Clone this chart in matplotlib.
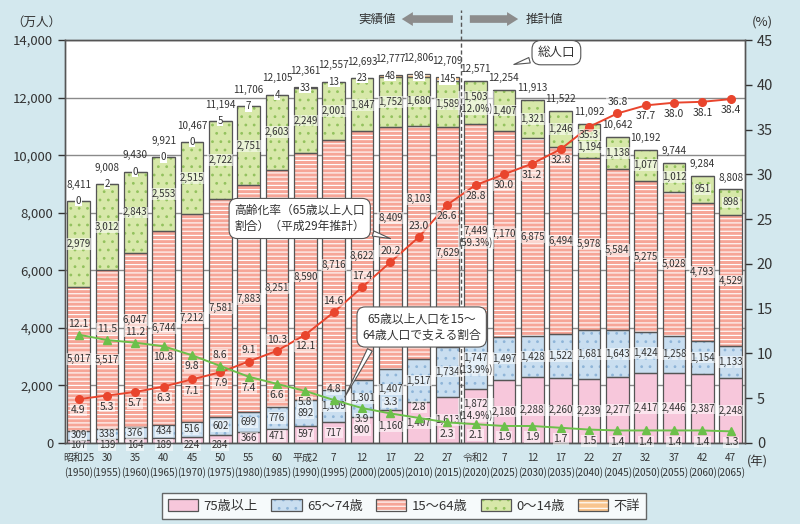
import matplotlib
matplotlib.use('Agg')
import matplotlib.pyplot as plt
import matplotlib.transforms as mtransforms
from matplotlib.patches import Patch
import numpy as np

plt.rcParams['font.family'] = ['Noto Sans CJK JP', 'DejaVu Sans']
plt.rcParams['hatch.linewidth'] = 0.8

# --- data (万人, %) ---
era = ['昭和25', '30', '35', '40', '45', '50', '55', '60', '平成2', '7', '12', '17',
       '22', '27', '令和2', '7', '12', '17', '22', '27', '32', '37', '42', '47']
years = [1950, 1955, 1960, 1965, 1970, 1975, 1980, 1985, 1990, 1995, 2000, 2005,
         2010, 2015, 2020, 2025, 2030, 2035, 2040, 2045, 2050, 2055, 2060, 2065]
age75 = [107, 139, 164, 189, 224, 284, 366, 471, 597, 717, 900, 1160,
         1407, 1613, 1872, 2180, 2288, 2260, 2239, 2277, 2417, 2446, 2387, 2248]
age65 = [309, 338, 376, 434, 516, 602, 699, 776, 892, 1109, 1301, 1407,
         1517, 1734, 1747, 1497, 1428, 1522, 1681, 1643, 1424, 1258, 1154, 1133]
age15 = [5017, 5517, 6047, 6744, 7212, 7581, 7883, 8251, 8590, 8716, 8622, 8409,
         8103, 7629, 7449, 7170, 6875, 6494, 5978, 5584, 5275, 5028, 4793, 4529]
age0 = [2979, 3012, 2843, 2553, 2515, 2722, 2751, 2603, 2249, 2001, 1847, 1752,
        1680, 1589, 1503, 1407, 1321, 1246, 1194, 1138, 1077, 1012, 951, 898]
unknown = [0, 2, 0, 0, 0, 5, 7, 4, 33, 13, 23, 48, 98, 145]
total = [8411, 9008, 9430, 9921, 10467, 11194, 11706, 12105, 12361, 12557, 12693, 12777,
         12806, 12709, 12571, 12254, 11913, 11522, 11092, 10642, 10192, 9744, 9284, 8808]
aging = [4.9, 5.3, 5.7, 6.3, 7.1, 7.9, 9.1, 10.3, 12.1, 14.6, 17.4, 20.2,
         23.0, 26.6, 28.8, 30.0, 31.2, 32.8, 35.3, 36.8, 37.7, 38.0, 38.1, 38.4]
support = [12.1, 11.5, 11.2, 10.8, 9.8, 8.6, 7.4, 6.6, 5.8, 4.8, 3.9, 3.3,
           2.8, 2.3, 2.1, 1.9, 1.9, 1.7, 1.5, 1.4, 1.4, 1.4, 1.4, 1.3]
share2020 = {'age75': '14.9%', 'age65': '13.9%', 'age15': '59.3%', 'age0': '12.0%'}

# label placement: above (+1) / below (-1) the point, and moved bar labels
aging_side = [-1, -1, -1, -1, -1, -1, 1, 1, -1, 1, 1, 1,
              1, -1, -1, -1, -1, -1, -0.7, 1, -1, -1, -1, -1]
support_side = [1, 1, 1, -1, -1, 1, -1, -1, -1, 1, -1, 1,
                1, -1, -1, -1, -1, -1, -1, -1, -1, -1, -1, -1]
age75_lab_y = {14: 1150}
age15_lab_y = {1: 2900, 2: 4270, 11: 7820, 12: 8480, 13: 6600, 14: 7150}
age0_lab_y = {18: 10290}

BG = '#d3e8ee'
EDGE = '#555555'
TXT = '#333333'
C75, C65, C15, C0, CU = '#f7c7db', '#c9def0', '#f6a597', '#d7e8a9', '#f9c58e'
RED, GREEN = '#e9452d', '#6cc04a'

n = len(years)
x = np.arange(n)
w = 0.8
unk = np.array(unknown + [0] * (n - len(unknown)))

fig = plt.figure(figsize=(8, 5.24), dpi=100, facecolor=BG)
ax = fig.add_axes([65/800, 1-443/524, 680/800, 403/524])
ax.set_facecolor('white')
ax2 = ax.twinx()

b1 = np.array(age75)
b2 = b1 + np.array(age65)
b3 = b2 + np.array(age15)
b4 = b3 + np.array(age0)


def stack(vals, bottom, fc, hc, hatch):
    ax.bar(x, vals, w, bottom=bottom, color=fc, edgecolor=hc, hatch=hatch, linewidth=0, zorder=2)
    ax.bar(x, vals, w, bottom=bottom, facecolor='none', edgecolor=EDGE, linewidth=0.9, zorder=3)


stack(age75, 0, C75, C75, None)
stack(age65, b1, C65, '#8fb5d8', '..')
stack(age15, b2, C15, 'white', '----')
stack(age0, b3, C0, '#93c25e', '..')
stack(unk, b4, CU, 'white', '---')

ax.set_xlim(-0.476, 23.5)
ax.set_ylim(0, 14000)
ax2.set_ylim(0, 45)
ax.set_yticks(range(0, 14001, 2000))
ax.set_yticklabels([f'{v:,}' for v in range(0, 14001, 2000)], fontsize=9.5, color=TXT)
ax2.set_yticks(range(0, 46, 5))
ax2.tick_params(axis='y', labelsize=10.5, colors=TXT, length=5, width=1, direction='out')
ax.tick_params(axis='y', length=5, width=1, colors=TXT)
ax.set_xticks(x)
ax.set_xticklabels([f'{e}\n({y})' for e, y in zip(era, years)], fontsize=7.2,
                   color=TXT, linespacing=1.55)
ax.tick_params(axis='x', length=0, pad=7)
ax.grid(axis='y', color='#8a8a8a', lw=1)
ax.set_axisbelow(True)
for a in (ax, ax2):
    for s in a.spines.values():
        s.set_color('#555555')
        s.set_linewidth(1)

bb = dict(boxstyle='square,pad=0.08', fc='white', ec='none', alpha=0.55)
fs = 7


def lab(xi, yi, s, **kw):
    ax.text(xi, yi, s, ha='center', va='center', fontsize=fs, color=TXT, bbox=bb,
            zorder=6, linespacing=1.15, **kw)


for i in range(n):
    y75 = b1[i] / 2 if age75[i] >= 300 else -60
    y75 = age75_lab_y.get(i, y75)
    y65 = (b1[i] + b2[i]) / 2
    y15 = age15_lab_y.get(i, (b2[i] + b3[i]) / 2)
    y0 = age0_lab_y.get(i, (b3[i] + b4[i]) / 2)
    if i == 14:
        lab(i, y75, f'{age75[i]:,}\n({share2020["age75"]})')
        lab(i, y65, f'{age65[i]:,}\n({share2020["age65"]})')
        lab(i, y15, f'{age15[i]:,}\n({share2020["age15"]})')
        lab(i, y0, f'{age0[i]:,}\n({share2020["age0"]})')
    else:
        lab(i, y75, f'{age75[i]:,}')
        lab(i, y65, f'{age65[i]:,}')
        lab(i, y15, f'{age15[i]:,}')
        lab(i, y0, f'{age0[i]:,}')
    if i < len(unknown):
        ax.text(i, b4[i] + unk[i] / 2, f'{unknown[i]}', ha='center', va='center', fontsize=fs,
                color=TXT, zorder=6,
                bbox=dict(boxstyle='square,pad=0.05', fc='white', ec='none'))
        off = 8
    else:
        off = 5
    ax.annotate(f'{total[i]:,}', (i, b4[i] + unk[i]), xytext=(0, off),
                textcoords='offset points', ha='center', va='bottom', fontsize=7.2,
                color=TXT, zorder=6)

ax2.plot(x, aging, color=RED, lw=1.4, marker='o', ms=5.5, zorder=5)
ax2.plot(x, support, color=GREEN, lw=1.4, marker='^', ms=6, zorder=5)
for i in range(n):
    ax2.annotate(f'{aging[i]:.1f}', (i, aging[i]), xytext=(0, 8 * aging_side[i]),
                 textcoords='offset points', ha='center', va='center', fontsize=fs + 0.5,
                 color=TXT, bbox=bb, zorder=7)
    ax2.annotate(f'{support[i]:.1f}', (i, support[i]), xytext=(0, 8 * support_side[i]),
                 textcoords='offset points', ha='center', va='center', fontsize=fs + 0.5,
                 color=TXT, bbox=bb, zorder=7)

# callouts
box = dict(boxstyle='round,pad=0.45,rounding_size=0.7', fc='white', ec=EDGE, lw=0.8)
wedge = dict(arrowstyle='wedge,tail_width=0.45,shrink_factor=0.5', fc='white', ec=EDGE, lw=0.8,
             shrinkB=0)
ax2.annotate('総人口', xy=(15.35, 13150), xycoords=ax.transData, xytext=(16.85, 13560),
             textcoords=ax.transData, fontsize=9, color=TXT, ha='center', va='center',
             bbox=box, arrowprops=dict(wedge, relpos=(0.15, 0.2)), zorder=9)
ax2.annotate('高齢化率（65歳以上人口\n割合）（平成29年推計）', xy=(11.0, 7100),
             xycoords=ax.transData, xytext=(7.8, 7800), textcoords=ax.transData,
             fontsize=8.5, color=TXT, ha='center', va='center', linespacing=1.35,
             bbox=box, arrowprops=dict(wedge, relpos=(0.9, 0.2)), zorder=9)
ax2.annotate('65歳以上人口を15～\n64歳人口で支える割合', xy=(9.39, 1600),
             xycoords=ax.transData, xytext=(12.1, 4030), textcoords=ax.transData,
             fontsize=8.5, color=TXT, ha='center', va='center', linespacing=1.35,
             bbox=box, arrowprops=dict(wedge, relpos=(0.12, 0.15)), zorder=9)

# actual / projection divider
tr = mtransforms.blended_transform_factory(ax.transData, ax.transAxes)
ax.plot([13.5, 13.5], [0, 1.075], transform=tr, clip_on=False, color='#555555',
        lw=1, ls=(0, (3, 2)), zorder=8)
arr = dict(arrowstyle='simple,head_width=1.0,head_length=0.8,tail_width=0.55',
           fc='#8c8c8c', ec='none')
ax.annotate('', xy=(11.3, 1.052), xytext=(13.3, 1.052), xycoords=tr, textcoords=tr, arrowprops=arr)
ax.annotate('', xy=(15.6, 1.052), xytext=(13.7, 1.052), xycoords=tr, textcoords=tr, arrowprops=arr)
ax.text(11.2, 1.052, '実績値', transform=tr, ha='right', va='center', fontsize=9, color=TXT)
ax.text(15.75, 1.052, '推計値', transform=tr, ha='left', va='center', fontsize=9, color=TXT)

fig.text(36/800, 1-22/524, '（万人）', ha='center', va='center', fontsize=9, color=TXT)
fig.text(762/800, 1-22/524, '(%)', ha='center', va='center', fontsize=9.5, color=TXT)
fig.text(757/800, 1-462/524, '(年)', ha='center', va='center', fontsize=9, color=TXT)

# legend
names = ['75歳以上', '65～74歳', '15～64歳', '0～14歳', '不詳']
fills = [(C75, C75, None), (C65, '#8fb5d8', '..'), (C15, 'white', '----'),
         (C0, '#93c25e', '..'), (CU, 'white', '---')]
handles = [(Patch(facecolor=f, edgecolor=h, hatch=ht, linewidth=0),
            Patch(facecolor='none', edgecolor=EDGE, linewidth=0.9)) for f, h, ht in fills]
leg = fig.legend(handles, names, loc='center', bbox_to_anchor=(404/800, 1-506/524), ncol=5,
                 fontsize=9.5, frameon=True, fancybox=False, edgecolor='#444444',
                 handlelength=2.3, handleheight=1.0, handletextpad=0.4, columnspacing=1.0,
                 borderpad=0.45)
leg.get_frame().set_linewidth(1)
for t in leg.get_texts():
    t.set_color(TXT)

fig.savefig('out.png', dpi=100, facecolor=BG)
